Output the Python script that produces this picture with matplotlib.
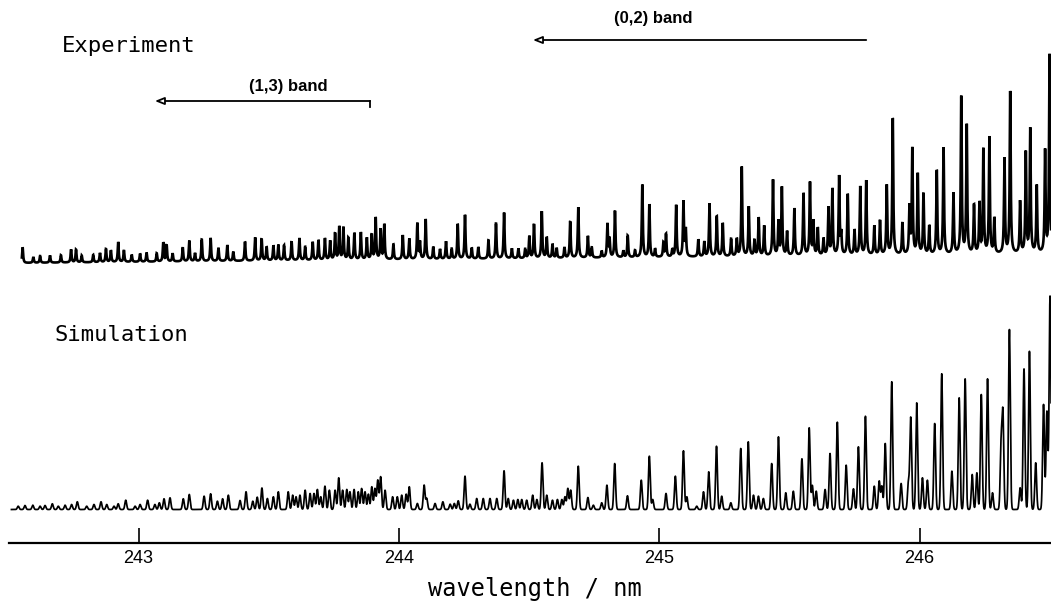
import numpy as np
import matplotlib
matplotlib.use("Agg")
import matplotlib.pyplot as plt

# Measured spectrum: line positions (nm) and peak intensities (arb. units)
exp_lines_nm = [
    242.555, 242.596, 242.622, 242.660, 242.702, 242.741, 242.760, 242.782, 242.826, 242.852,
    242.875, 242.894, 242.922, 242.944, 242.974, 243.006, 243.031, 243.070, 243.095, 243.108,
    243.131, 243.170, 243.195, 243.217, 243.243, 243.277, 243.307, 243.341, 243.364, 243.409,
    243.448, 243.473, 243.492, 243.518, 243.537, 243.559, 243.588, 243.618, 243.640, 243.669,
    243.691, 243.716, 243.736, 243.755, 243.771, 243.787, 243.806, 243.829, 243.854, 243.877,
    243.896, 243.911, 243.930, 243.944, 243.979, 244.015, 244.040, 244.071, 244.081, 244.103,
    244.132, 244.158, 244.181, 244.203, 244.226, 244.254, 244.280, 244.305, 244.344, 244.373,
    244.404, 244.434, 244.459, 244.485, 244.501, 244.519, 244.549, 244.568, 244.590, 244.606,
    244.636, 244.658, 244.689, 244.726, 244.741, 244.779, 244.801, 244.809, 244.830, 244.862,
    244.879, 244.907, 244.935, 244.962, 244.984, 245.016, 245.026, 245.050, 245.065, 245.093,
    245.102, 245.150, 245.173, 245.193, 245.221, 245.244, 245.276, 245.298, 245.317, 245.344,
    245.366, 245.382, 245.403, 245.437, 245.458, 245.471, 245.491, 245.519, 245.554, 245.579,
    245.592, 245.609, 245.631, 245.650, 245.665, 245.691, 245.699, 245.724, 245.750, 245.772,
    245.795, 245.826, 245.848, 245.874, 245.897, 245.934, 245.961, 245.972, 245.993, 246.015,
    246.037, 246.066, 246.092, 246.130, 246.160, 246.181, 246.209, 246.230, 246.245, 246.268,
    246.287, 246.326, 246.348, 246.386, 246.408, 246.425, 246.450, 246.482, 246.499,
]
exp_lines_int = [
    15.7, 6.0, 6.7, 7.3, 7.3, 13.0, 12.7, 6.7, 7.3, 9.3,
    13.0, 11.7, 20.0, 11.7, 7.3, 8.3, 9.3, 8.3, 19.0, 16.7,
    8.3, 14.0, 20.7, 8.3, 21.7, 23.3, 13.3, 16.0, 9.3, 19.3,
    23.3, 22.0, 14.0, 15.0, 15.7, 15.0, 19.0, 22.3, 13.3, 18.3,
    20.0, 21.7, 19.0, 26.7, 33.0, 32.3, 21.7, 26.7, 27.3, 21.7,
    25.0, 41.7, 30.0, 35.0, 15.0, 24.3, 20.7, 35.7, 16.7, 40.0,
    12.3, 10.0, 17.7, 10.0, 35.0, 44.0, 11.0, 11.7, 18.3, 35.0,
    46.0, 10.0, 10.0, 9.0, 22.0, 34.0, 46.7, 20.7, 14.0, 10.0,
    10.7, 36.7, 50.7, 21.7, 10.0, 6.7, 33.3, 18.3, 46.7, 6.7,
    21.7, 6.7, 72.7, 52.7, 8.3, 14.0, 22.7, 6.7, 51.7, 55.0,
    26.7, 17.3, 15.0, 53.3, 40.0, 33.3, 17.3, 17.3, 89.3, 49.3,
    16.0, 38.3, 30.0, 76.0, 34.0, 68.3, 24.0, 47.3, 62.3, 72.7,
    34.0, 27.3, 16.7, 47.3, 66.0, 78.3, 20.0, 61.0, 25.0, 68.3,
    74.3, 29.0, 34.3, 69.3, 136.7, 31.7, 46.7, 105.0, 80.0, 60.7,
    28.3, 84.0, 106.7, 60.7, 157.0, 129.0, 48.3, 50.0, 104.0, 116.7,
    35.0, 95.0, 162.3, 51.7, 100.7, 124.0, 67.3, 101.7, 198.3,
]
# Slow drift of the recorder baseline at the two ends of the scan
exp_drift_nm = [242.55, 246.50]
exp_drift_int = [0.0, 9.0]

# Simulated spectrum: line positions (nm) and peak intensities (arb. units)
sim_lines_nm = [
    242.538, 242.564, 242.594, 242.622, 242.641, 242.669, 242.692, 242.718, 242.743, 242.765,
    242.801, 242.829, 242.856, 242.878, 242.906, 242.922, 242.951, 242.987, 243.006, 243.035,
    243.063, 243.080, 243.098, 243.121, 243.172, 243.195, 243.252, 243.277, 243.303, 243.323,
    243.345, 243.390, 243.413, 243.439, 243.456, 243.474, 243.495, 243.518, 243.537, 243.575,
    243.592, 243.605, 243.620, 243.640, 243.659, 243.674, 243.687, 243.700, 243.716, 243.733,
    243.755, 243.769, 243.784, 243.800, 243.812, 243.828, 243.844, 243.857, 243.870, 243.883,
    243.896, 243.908, 243.919, 243.930, 243.947, 243.976, 243.994, 244.011, 244.028, 244.040,
    244.071, 244.097, 244.107, 244.139, 244.169, 244.197, 244.213, 244.228, 244.254, 244.273,
    244.299, 244.324, 244.350, 244.376, 244.404, 244.420, 244.440, 244.457, 244.472, 244.491,
    244.514, 244.530, 244.550, 244.568, 244.590, 244.609, 244.626, 244.638, 244.649, 244.660,
    244.689, 244.726, 244.747, 244.779, 244.799, 244.829, 244.878, 244.931, 244.962, 244.975,
    245.026, 245.062, 245.093, 245.106, 245.144, 245.170, 245.190, 245.220, 245.240, 245.275,
    245.313, 245.342, 245.362, 245.381, 245.400, 245.432, 245.458, 245.486, 245.515, 245.548,
    245.576, 245.588, 245.603, 245.637, 245.656, 245.684, 245.718, 245.746, 245.765, 245.792,
    245.826, 245.845, 245.855, 245.868, 245.893, 245.929, 245.957, 245.966, 245.989, 246.011,
    246.030, 246.058, 246.085, 246.124, 246.152, 246.175, 246.202, 246.220, 246.237, 246.261,
    246.280, 246.313, 246.320, 246.345, 246.386, 246.401, 246.422, 246.446, 246.476, 246.489,
    246.501,
]
sim_lines_int = [
    3.3, 4.0, 4.3, 3.3, 4.0, 5.7, 3.3, 4.3, 5.0, 7.7,
    3.3, 5.0, 7.7, 5.0, 3.3, 5.7, 9.3, 3.3, 5.0, 9.3,
    5.0, 6.7, 10.7, 11.7, 10.7, 15.0, 13.3, 15.7, 8.3, 10.7,
    14.3, 9.0, 17.7, 8.3, 12.3, 21.5, 11.0, 12.7, 17.7, 17.7,
    14.3, 12.7, 14.3, 19.3, 16.0, 16.0, 20.0, 12.7, 23.3, 19.3,
    19.3, 31.7, 19.3, 20.0, 17.7, 20.0, 17.7, 21.0, 17.7, 15.3,
    22.7, 21.0, 29.3, 32.7, 19.3, 12.7, 12.7, 14.3, 15.3, 22.7,
    6.0, 24.3, 11.0, 6.0, 7.7, 5.3, 6.0, 8.7, 33.3, 5.3,
    11.0, 11.0, 11.0, 11.0, 38.7, 11.0, 9.3, 10.0, 10.0, 9.3,
    14.3, 10.0, 46.7, 14.3, 9.3, 10.0, 10.0, 12.7, 21.0, 19.3,
    43.3, 12.0, 4.3, 6.7, 24.3, 46.0, 13.7, 29.3, 53.3, 10.0,
    16.0, 33.3, 58.7, 12.7, 3.3, 17.7, 37.7, 63.3, 13.3, 6.7,
    61.0, 67.7, 14.3, 13.3, 11.0, 46.0, 72.7, 16.7, 18.3, 50.7,
    81.7, 24.0, 18.3, 20.0, 56.0, 87.3, 44.3, 20.7, 62.7, 93.3,
    23.3, 28.3, 23.3, 66.0, 127.7, 26.0, 26.7, 91.7, 106.7, 31.7,
    29.3, 86.0, 135.7, 38.3, 111.7, 130.7, 35.0, 36.7, 115.0, 130.7,
    16.7, 61.7, 93.3, 180.0, 21.7, 140.7, 158.3, 46.7, 105.0, 98.0,
    213.3,
]

tick_values = [243, 244, 245, 246]
tick_labels = ["243", "244", "245", "246"]

LETTERING = dict(family=["DejaVu Sans Mono", "DejaVu Sans"])
NARROW = dict(family=["Liberation Sans Narrow", "Liberation Sans", "DejaVu Sans"])


def gauss_lines(x, centres, heights, width):
    """Sum of Gaussian line shapes on the wavelength grid x."""
    y = np.zeros_like(x)
    for c, h in zip(centres, heights):
        y += h * np.exp(-0.5 * ((x - c) / width) ** 2)
    return y


def lorentz_lines(x, centres, heights, width):
    """Sum of Lorentzian line shapes (half width `width`) on grid x."""
    y = np.zeros_like(x)
    for c, h in zip(centres, heights):
        y += h / (1.0 + ((x - c) / width) ** 2)
    return y


W, H = 1051, 601
fig = plt.figure(figsize=(W / 100, H / 100), dpi=100)
ax = fig.add_axes([9 / W, 0, 1 - 9 / W, 1])
ax.set_xlim(242.5026, 246.5047)
ax.set_ylim(0, H)

# vertical placement of the two traces and of the wavelength axis
exp_offset = 338.0
sim_offset = 91.5
axis_level = 58.0

x_exp = np.linspace(242.552, 246.505, 12000)
y_exp = (exp_offset + np.interp(x_exp, exp_drift_nm, exp_drift_int)
         + lorentz_lines(x_exp, exp_lines_nm, exp_lines_int, 0.0022))
ax.plot(x_exp, y_exp, color="black", lw=1.9, solid_joinstyle="miter")

x_sim = np.linspace(242.512, 246.505, 12000)
y_sim = sim_offset + gauss_lines(x_sim, sim_lines_nm, sim_lines_int, 0.0034)
ax.plot(x_sim, y_sim, color="black", lw=1.25)

# wavelength axis drawn as a single line with upward ticks
for side in ("left", "right", "top"):
    ax.spines[side].set_visible(False)
ax.spines["bottom"].set_position(("data", axis_level))
ax.spines["bottom"].set_linewidth(1.6)
ax.set_yticks([])
ax.set_xticks(tick_values)
ax.set_xticklabels(tick_labels, fontsize=13, **NARROW)
ax.tick_params(axis="x", direction="in", length=11, width=1.2, pad=5)

fig.text(535 / W, 1 - 589 / H, "wavelength / nm", ha="center", va="center",
         fontsize=17, **LETTERING)
fig.text(62 / W, 1 - 46 / H, "Experiment", ha="left", va="center",
         fontsize=16, **LETTERING)
fig.text(55 / W, 1 - 335 / H, "Simulation", ha="left", va="center",
         fontsize=16, **LETTERING)

# band-head arrows
arrow_style = dict(arrowstyle="-|>,head_length=0.55,head_width=0.22",
                   fc="white", ec="black", lw=1.3, shrinkA=0, shrinkB=0)
ax.annotate("", xy=(244.515, 561), xytext=(245.795, 561), arrowprops=arrow_style)
ax.text(244.976, 582, "(0,2) band", ha="center", va="center", fontsize=12,
        fontweight="bold", **NARROW)
ax.annotate("", xy=(243.063, 500), xytext=(243.889, 500), arrowprops=arrow_style)
ax.plot([243.889, 243.889], [500, 494], color="black", lw=1.3)
ax.text(243.574, 515, "(1,3) band", ha="center", va="center", fontsize=12,
        fontweight="bold", **NARROW)

fig.savefig("out.png", dpi=100)
